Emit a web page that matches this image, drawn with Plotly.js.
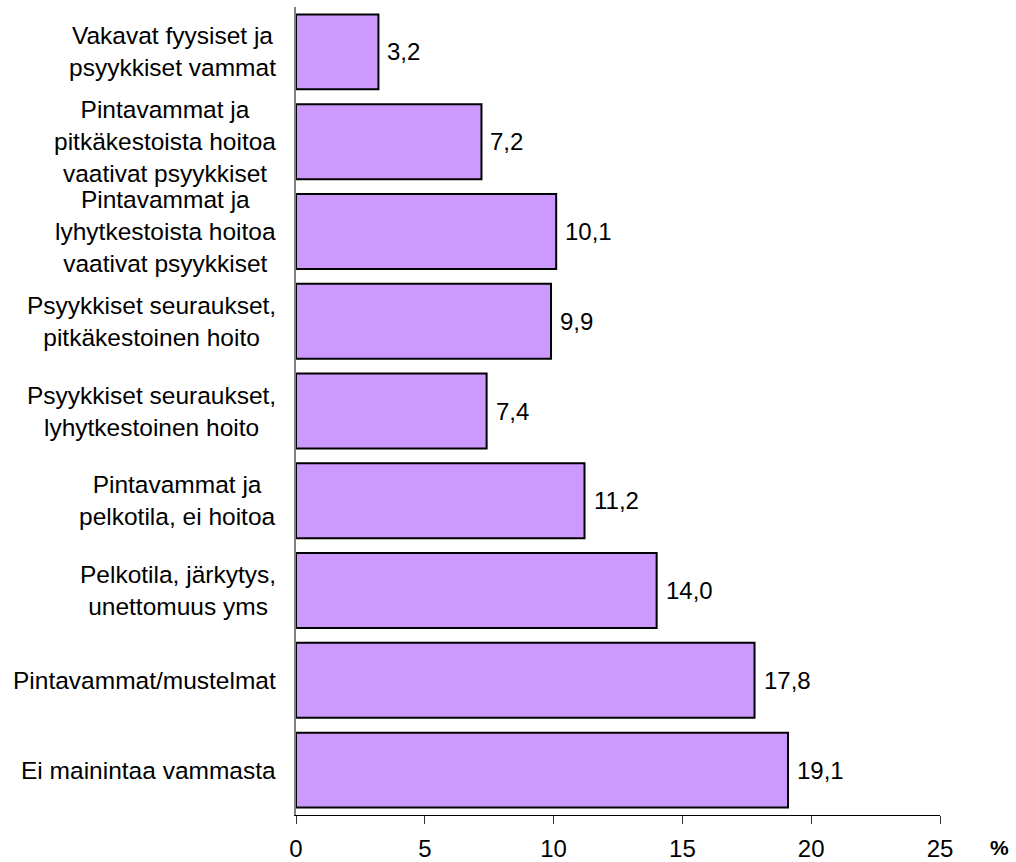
<!DOCTYPE html>
<html>
<head>
<meta charset="utf-8">
<script src="https://cdn.plot.ly/plotly-3.0.1.min.js"></script>
<style>html,body{margin:0;padding:0;background:#fff;}</style>
</head>
<body>
<div id="chart" style="width:1016px;height:862px;"></div>
<script>
const categories = [
  "Vakavat fyysiset ja<br>psyykkiset vammat",
  "Pintavammat ja<br>pitkäkestoista hoitoa<br>vaativat psyykkiset",
  "Pintavammat ja<br>lyhytkestoista hoitoa<br>vaativat psyykkiset",
  "Psyykkiset seuraukset,<br>pitkäkestoinen hoito",
  "Psyykkiset seuraukset,<br>lyhytkestoinen hoito",
  "Pintavammat ja<br>pelkotila, ei hoitoa",
  "Pelkotila, järkytys,<br>unettomuus yms",
  "Pintavammat/mustelmat",
  "Ei mainintaa vammasta"
];
const values = [3.2, 7.2, 10.1, 9.9, 7.4, 11.2, 14.0, 17.8, 19.1];
const xTicks = [0, 5, 10, 15, 20, 25];
const unitLabel = "%";

const FONT = "Liberation Sans, Arial, sans-serif";
const fmt = v => v.toFixed(1).replace('.', ',');

const trace = {
  type: 'bar',
  orientation: 'h',
  x: values,
  y: categories,
  marker: {color: '#cc99ff', line: {color: '#000000', width: 2}},
  hoverinfo: 'skip',
  cliponaxis: false
};

const annotations = [];
categories.forEach((c, i) => {
  annotations.push({
    xref: 'paper', yref: 'y', x: 0, y: c,
    xanchor: 'right', yanchor: 'middle', xshift: -18,
    text: c, align: 'center', showarrow: false,
    font: {family: FONT, size: 24.5, color: '#000'}
  });
  annotations.push({
    xref: 'x', yref: 'y', x: values[i], y: c,
    xanchor: 'left', yanchor: 'middle', xshift: 7,
    text: fmt(values[i]), showarrow: false,
    font: {family: FONT, size: 24, color: '#000'}
  });
});
annotations.push({
  xref: 'paper', yref: 'paper', x: 1, y: 0,
  xanchor: 'center', yanchor: 'bottom', xshift: 59, yshift: -46,
  text: '<b>' + unitLabel + '</b>', showarrow: false,
  font: {family: FONT, size: 21, color: '#000'}
});

const layout = {
  width: 1016, height: 862,
  margin: {l: 296, r: 76, t: 7, b: 47, pad: 0},
  paper_bgcolor: '#fff', plot_bgcolor: '#fff',
  showlegend: false,
  bargap: 0.165,
  font: {family: FONT, size: 24, color: '#000'},
  xaxis: {
    range: [0, 25], tickvals: xTicks, ticktext: xTicks.map(String),
    showgrid: false, zeroline: false,
    showline: true, linecolor: '#000', linewidth: 1,
    ticks: 'outside', ticklen: 8, tickcolor: '#333', tickwidth: 1,
    tickfont: {family: FONT, size: 24, color: '#000'},
    ticklabelstandoff: 4,
    fixedrange: true
  },
  xaxis2: {
    overlaying: 'x', anchor: 'y', side: 'bottom',
    range: [0, 25], tickvals: xTicks,
    showgrid: false, zeroline: false, showline: false,
    ticks: 'inside', ticklen: 8, tickcolor: '#333', tickwidth: 1,
    showticklabels: false, fixedrange: true
  },
  yaxis: {
    autorange: 'reversed',
    showgrid: false, zeroline: false,
    showline: true, linecolor: '#808080', linewidth: 2,
    ticks: '', showticklabels: false,
    fixedrange: true
  },
  annotations: annotations
};

Plotly.newPlot('chart', [trace], layout, {staticPlot: true, displayModeBar: false});
</script>
</body>
</html>
